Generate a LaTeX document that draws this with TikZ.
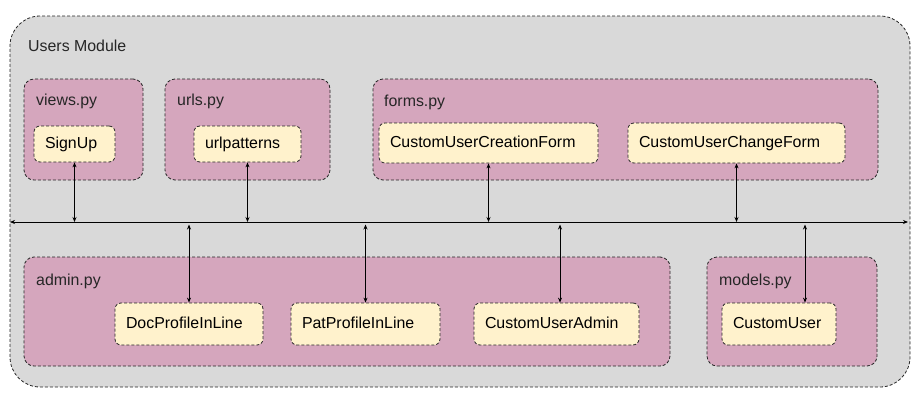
\documentclass[tikz,border=0pt]{standalone}
\usepackage{fontspec}
\setmainfont{Liberation Sans}
\usetikzlibrary{arrows.meta}
\definecolor{outerfill}{HTML}{D9D9D9}
\definecolor{pinkfill}{HTML}{D5A6BD}
\definecolor{yellowfill}{HTML}{FFF2CC}
\begin{document}
\begin{tikzpicture}[x=1pt,y=-1pt,
  font=\fontsize{15.9}{18}\selectfont,
  dsh/.style={draw=black!85,line width=0.8pt,dash pattern=on 3pt off 2pt},
  outerbox/.style={dsh,fill=outerfill,rounded corners=30pt,inner sep=0pt},
  filebox/.style={dsh,fill=pinkfill,rounded corners=10pt,inner sep=0pt},
  classbox/.style={dsh,fill=yellowfill,rounded corners=6pt,inner ysep=0pt,inner xsep=11pt,align=left,text height=11.4pt,text depth=3.2pt},
  ttl/.style={anchor=base west,inner sep=0pt,text=black!85},
  arr/.style={draw=black,line width=0.8pt,{Stealth[length=5pt,width=4pt]}-{Stealth[length=5pt,width=4pt]}}
]
\useasboundingbox (0,0) rectangle (924,402);
\node[outerbox,minimum width=900pt,minimum height=371pt] (outer) at (460,201.5) {};
\node[ttl] (outert) at (28,51.5) {Users Module};
% file boxes
\node[filebox,minimum width=119pt,minimum height=101pt] (views) at (83.5,129.5) {};
\node[filebox,minimum width=165pt,minimum height=101pt] (urls) at (247.5,129.5) {};
\node[filebox,minimum width=505pt,minimum height=101pt] (forms) at (625.5,129.5) {};
\node[filebox,minimum width=646pt,minimum height=109pt] (admin) at (347,311.5) {};
\node[filebox,minimum width=170pt,minimum height=109pt] (models) at (792,311.5) {};
\node[ttl] (viewst) at (36,105.5) {views.py};
\node[ttl] (urlst) at (177,105.5) {urls.py};
\node[ttl] (formst) at (384,106.5) {forms.py};
\node[ttl] (admint) at (36,285.5) {admin.py};
\node[ttl] (modelst) at (719,285.5) {models.py};
% class boxes
\node[classbox,text width=59pt,minimum height=36pt] (signup) at (74.5,144) {SignUp};
\node[classbox,text width=85pt,minimum height=36pt] (urlpat) at (247.5,144) {urlpatterns};
\node[classbox,text width=197pt,minimum height=40pt] (cucf) at (488.5,143) {CustomUserCreationForm};
\node[classbox,text width=195pt,minimum height=40pt] (cuchf) at (736.5,143) {CustomUserChangeForm};
\node[classbox,text width=126pt,minimum height=42pt] (doc) at (189,324) {DocProfileInLine};
\node[classbox,text width=127pt,minimum height=42pt] (pat) at (365.5,324) {PatProfileInLine};
\node[classbox,text width=143pt,minimum height=42pt] (cua) at (556.5,324) {CustomUserAdmin};
\node[classbox,text width=92pt,minimum height=42pt] (cu) at (779,324) {CustomUser};
% bus
\coordinate (busL) at (10,222);
\coordinate (busR) at (908,222);
\coordinate (busB) at (10,224.5);
\draw[arr] (busL) -- (busR);
% upper connectors
\draw[arr] (signup.south) -- (signup.south |- busL);
\draw[arr] (urlpat.south) -- (urlpat.south |- busL);
\draw[arr] (cucf.south) -- (cucf.south |- busL);
\draw[arr] (cuchf.south) -- (cuchf.south |- busL);
% lower connectors
\draw[arr] (doc.north) -- (doc.north |- busB);
\draw[arr] (pat.north) -- (pat.north |- busB);
\draw[arr] ([xshift=3.5pt]cua.north) -- ([xshift=3.5pt]cua.north |- busB);
\draw[arr] ([xshift=26pt]cu.north) -- ([xshift=26pt]cu.north |- busB);
\end{tikzpicture}
\end{document}
